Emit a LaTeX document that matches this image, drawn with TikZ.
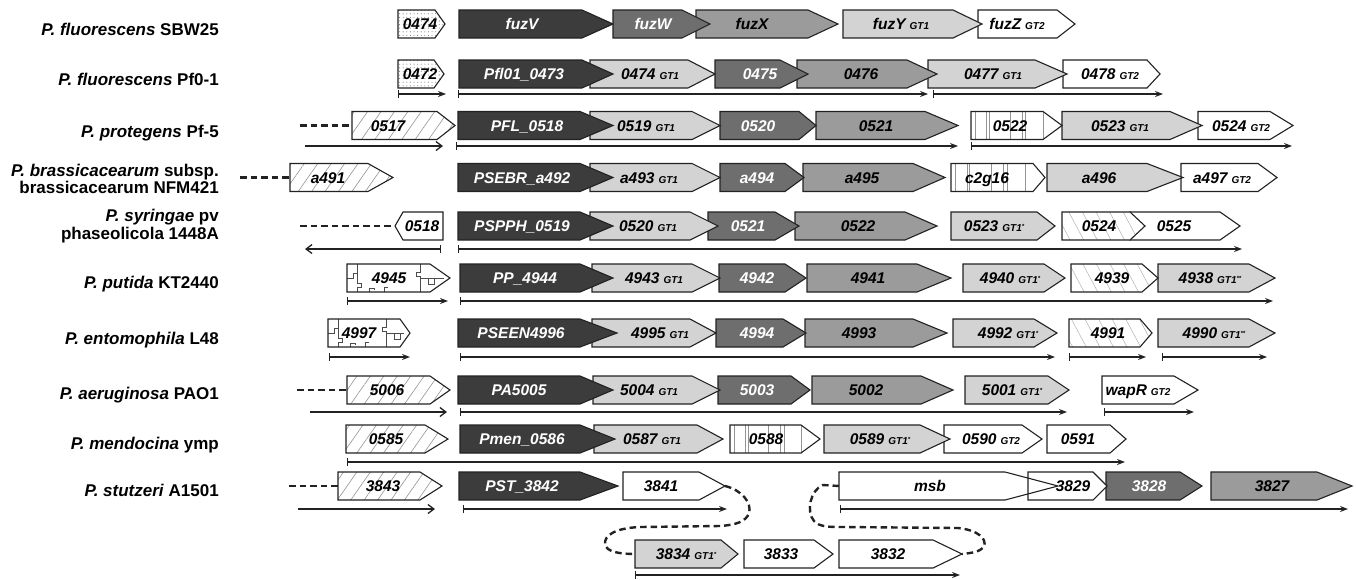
\documentclass[tikz,border=0pt]{standalone}
\usepackage{fontspec}
\setmainfont{Liberation Sans}
\usetikzlibrary{patterns.meta,arrows.meta,calc}
\definecolor{cdk}{HTML}{3C3C3C}
\definecolor{cmd}{HTML}{6E6E6E}
\definecolor{cgy}{HTML}{9B9B9B}
\definecolor{clt}{HTML}{D3D3D3}
\definecolor{olc}{HTML}{222222}
\newcommand\GTsub[1]{\hspace{4pt}{\fontsize{10}{10}\selectfont GT#1}}
\newcommand\GTs{\hspace{4pt}{\fontsize{10}{10}\selectfont GT1\raisebox{3pt}{\fontsize{6}{6}\selectfont *}}}
\newcommand\GTss{\hspace{4pt}{\fontsize{10}{10}\selectfont GT1\raisebox{3pt}{\fontsize{6}{6}\selectfont **}}}
% gene pointing right: name, x1, xtip, head, y, style, label x, label, label style
\newcommand\gn[9]{%
  \path[gene,#6] (#2,{#5-14}) -- ({#3-#4},{#5-14}) -- (#3,#5) -- ({#3-#4},{#5+14}) -- (#2,{#5+14}) -- cycle;
  \coordinate (#1-w) at (#2,#5);
  \coordinate (#1-e) at (#3,#5);
  \node[glabel,#9] (#1) at (#7,{#5+5.5}) {#8};}
% gene pointing left: name, xtip, xright, head, y, style, label x, label, label style
\newcommand\gnl[9]{%
  \path[gene,#6] (#2,#5) -- ({#2+#4},{#5-14}) -- (#3,{#5-14}) -- (#3,{#5+14}) -- ({#2+#4},{#5+14}) -- cycle;
  \coordinate (#1-w) at (#2,#5);
  \coordinate (#1-e) at (#3,#5);
  \node[glabel,#9] (#1) at (#7,{#5+5.5}) {#8};}
% genomic extent line: name, x1, x2, y, style
\newcommand\gl[5]{%
  \coordinate (#1a) at (#2,#4);
  \coordinate (#1b) at (#3,#4);
  \draw[gline,#5] (#1a) -- (#1b);}
\tikzset{
  gene/.style={draw=olc, line width=1.1pt, line join=miter},
  dk/.style={fill=cdk}, md/.style={fill=cmd}, gy/.style={fill=cgy},
  lt/.style={fill=clt}, wh/.style={fill=white},
  pdots/.style={preaction={fill=white}, pattern={Dots[distance=3.6pt,radius=0.55pt]}, pattern color=black!50},
  phatch/.style={preaction={fill=white}, pattern={Lines[angle=55,distance=11pt,line width=0.6pt]}, pattern color=black!42},
  pfhatch/.style={preaction={fill=white}, pattern={Lines[angle=-62,distance=12pt,line width=0.5pt]}, pattern color=black!30},
  pvstr/.style={fill=white, path picture={
      \foreach \f in {0.05,0.17,0.2,0.43,0.56,0.6,0.79}{
        \draw[black!42,line width=0.7pt] ($(path picture bounding box.north west)!\f!(path picture bounding box.north east)$) -- ++(0,40);}}},
  jigline/.style={draw=black!70, line width=0.6pt},
  pjig/.style={fill=white, path picture={
      \begin{scope}[shift={(path picture bounding box.west)}]
        \draw[jigline] (10,-14) -- (10,-5) -- (6,-5) -- (6,0) -- (0,0);
        \draw[jigline] (10,-5) -- (10,5) -- (14,5) -- (14,9) -- (10,9) -- (10,14);
        \draw[jigline] (22,14) -- (22,10) -- (27,10) -- (27,12);
        \draw[jigline] (37,14) -- (37,9) -- (41,9);
      \end{scope}
      \begin{scope}[shift={(path picture bounding box.east)}]
        \draw[jigline] (-#1,-14) -- (-#1,-6) -- ({-#1-4},-6) -- ({-#1-4},-2) -- (-#1,-2) -- (-#1,14);
        \draw[jigline] (-#1,0) -- (-6,0);
        \draw[jigline] ({-#1+8},0) -- ({-#1+8},6) -- ({-#1+14},6) -- ({-#1+14},0);
      \end{scope}}},
  glabel/.style={anchor=base, inner sep=0pt, font=\fontsize{15.5}{16}\selectfont\bfseries\itshape},
  wt/.style={text=white}, bk/.style={text=black},
  sp/.style={anchor=base east, inner sep=0pt, font=\fontsize{17}{17}\selectfont\bfseries},
  gline/.style={draw=olc, line width=1.3pt},
  tkar/.style={arrows={Bar[width=8pt]-Stealth[length=8pt,width=6pt]}},
  opar/.style={arrows={-Straight Barb[length=6pt,width=9pt]}},
  tkop/.style={arrows={Bar[width=8pt]-Straight Barb[length=6pt,width=9pt]}},
  dsh/.style={draw=olc, line width=2.4pt, dash pattern=on 6.5pt off 4pt}
}
\begin{document}
\begin{tikzpicture}[x=1pt,y=-1pt]
\useasboundingbox (0,0) rectangle (1356,579);

% species labels
\node[sp] (s1) at (219,35) {\textit{P. fluorescens} SBW25};
\node[sp] (s2) at (219,85) {\textit{P. fluorescens} Pf0-1};
\node[sp] (s3) at (219,137) {\textit{P. protegens} Pf-5};
\node[sp] (s4a) at (219,176) {\textit{P. brassicacearum} subsp.};
\node[sp] (s4b) at (219,193) {brassicacearum NFM421};
\node[sp] (s5a) at (219,221) {\textit{P. syringae} pv};
\node[sp] (s5b) at (219,239) {phaseolicola 1448A};
\node[sp] (s6) at (219,288) {\textit{P. putida} KT2440};
\node[sp] (s7) at (219,344) {\textit{P. entomophila} L48};
\node[sp] (s8) at (219,399) {\textit{P. aeruginosa} PAO1};
\node[sp] (s9) at (219,449) {\textit{P. mendocina} ymp};
\node[sp] (s10) at (219,496) {\textit{P. stutzeri} A1501};

% row 1
\gn{r1f}{978}{1075}{18}{24}{wh}{1017}{fuzZ\GTsub{2}}{bk}
\gn{r1e}{843}{982}{29}{24}{lt}{901}{fuzY\GTsub{1}}{bk}
\gn{r1d}{696}{838}{30}{24}{gy}{752}{fuzX}{bk}
\gn{r1c}{613}{710}{28}{24}{md}{653}{fuzW}{wt}
\gn{r1b}{459}{613}{31}{24}{dk}{522}{fuzV}{wt}
\gn{r1a}{398}{445}{10}{24}{pdots}{420}{0474}{bk}

% row 2
\gn{r2g}{1063}{1160}{13}{74}{wh}{1110}{0478\GTsub{2}}{bk}
\gn{r2f}{928}{1067}{32}{74}{lt}{993}{0477\GTsub{1}}{bk}
\gn{r2e}{797}{937}{30}{74}{gy}{861}{0476}{bk}
\gn{r2d}{715}{808}{28}{74}{md}{760}{0475}{wt}
\gn{r2c}{590}{715}{27}{74}{lt}{650}{0474\GTsub{1}}{bk}
\gn{r2b}{459}{613}{31}{74}{dk}{524}{Pfl01\_0473}{wt}
\gn{r2a}{398}{444}{10}{74}{pdots}{420}{0472}{bk}
\gl{l2a}{398}{446}{94}{tkar}
\gl{l2b}{458}{928}{94}{tkar}
\gl{l2c}{933}{1163}{94}{tkar}

% row 3
\gn{r3h}{1198}{1293}{23}{125.5}{wh}{1241}{0524\GTsub{2}}{bk}
\gn{r3g}{1062}{1202}{32}{125.5}{lt}{1120}{0523\GTsub{1}}{bk}
\gn{r3f}{971}{1062}{19}{125.5}{pvstr}{1010}{0522}{bk}
\gn{r3e}{816}{958}{33}{125.5}{gy}{876}{0521}{bk}
\gn{r3d}{720}{816}{17}{125.5}{md}{758}{0520}{wt}
\gn{r3c}{590}{720}{28}{125.5}{lt}{646}{0519\GTsub{1}}{bk}
\gn{r3b}{458}{613}{33}{125.5}{dk}{527}{PFL\_0518}{wt}
\gn{r3a}{352}{455}{18}{125.5}{phatch}{388}{0517}{bk}
\coordinate (d3) at (300,125.5);
\draw[dsh] (d3) -- (r3a-w);
\gl{l3a}{305}{443}{146}{opar}
\gl{l3b}{456}{958}{146}{tkar}
\gl{l3c}{971}{1292}{146}{tkar}

% row 4
\gn{r4h}{1181}{1277}{19}{177.5}{wh}{1222}{a497\GTsub{2}}{bk}
\gn{r4g}{1047}{1183}{36}{177.5}{lt}{1099}{a496}{bk}
\gn{r4f}{951}{1045}{12}{177.5}{pvstr}{987}{c2g16}{bk}
\gn{r4e}{803}{945}{32}{177.5}{gy}{862}{a495}{bk}
\gn{r4d}{720}{804}{19}{177.5}{md}{757}{a494}{wt}
\gn{r4c}{590}{720}{28}{177.5}{lt}{649}{a493\GTsub{1}}{bk}
\gn{r4b}{458}{613}{33}{177.5}{dk}{522}{PSEBR\_a492}{wt}
\gn{r4a}{290}{393}{25}{177.5}{phatch}{328}{a491}{bk}
\coordinate (d4) at (240,177.5);
\draw[dsh] (d4) -- (r4a-w);

% row 5
\gn{r5h}{1130}{1240}{20}{226}{wh}{1174}{0525}{bk}
\gn{r5g}{1062}{1145}{15}{226}{pfhatch}{1099}{0524}{bk}
\gn{r5f}{951}{1055}{18}{226}{lt}{994}{0523\GTs}{bk}
\gn{r5e}{795}{937}{32}{226}{gy}{858}{0522}{bk}
\gn{r5d}{708}{799}{24}{226}{md}{748}{0521}{wt}
\gn{r5c}{590}{718}{28}{226}{lt}{648}{0520\GTsub{1}}{bk}
\gn{r5b}{458}{613}{33}{226}{dk}{522}{PSPPH\_0519}{wt}
\gnl{r5a}{395}{443}{8}{226}{wh}{422}{0518}{bk}
\coordinate (d5) at (300,226);
\draw[dsh] (d5) -- (r5a-w);
\gl{l5a}{441}{305}{249}{tkop}
\gl{l5b}{458}{1242}{249}{tkar}

% row 6
\gn{r6h}{1158}{1275}{26}{278}{lt}{1210}{4938\GTss}{bk}
\gn{r6g}{1071}{1158}{16}{278}{pfhatch}{1112}{4939}{bk}
\gn{r6f}{963}{1065}{21}{278}{lt}{1010}{4940\GTs}{bk}
\gn{r6e}{807}{951}{34}{278}{gy}{868}{4941}{bk}
\gn{r6d}{719}{806}{21}{278}{md}{757}{4942}{wt}
\gn{r6c}{592}{720}{28}{278}{lt}{654}{4943\GTsub{1}}{bk}
\gn{r6b}{460}{613}{33}{278}{dk}{525}{PP\_4944}{wt}
\gn{r6a}{347}{450}{20}{278}{pjig=30}{389}{4945}{bk}
\gl{l6a}{347}{448}{301}{tkar}
\gl{l6b}{460}{1273}{301}{tkar}

% row 7
\gn{r7h}{1158}{1275}{26}{333}{lt}{1214}{4990\GTss}{bk}
\gn{r7g}{1069}{1152}{12}{333}{pfhatch}{1108}{4991}{bk}
\gn{r7f}{953}{1057}{23}{333}{lt}{1008}{4992\GTs}{bk}
\gn{r7e}{805}{947}{34}{333}{gy}{859}{4993}{bk}
\gn{r7d}{716}{806}{23}{333}{md}{757}{4994}{wt}
\gn{r7c}{592}{716}{26}{333}{lt}{660}{4995\GTsub{1}}{bk}
\gn{r7b}{458}{617}{37}{333}{dk}{521}{PSEEN4996}{wt}
\gn{r7a}{328}{410}{10}{333}{pjig=24}{359}{4997}{bk}
\gl{l7a}{329}{410}{357}{tkar}
\gl{l7b}{460}{1055}{357}{tkar}
\gl{l7c}{1069}{1146}{357}{tkar}
\gl{l7d}{1162}{1267}{357}{tkar}

% row 8
\gn{r8g}{1102}{1198}{24}{390}{wh}{1138}{wapR\GTsub{2}}{bk}
\gn{r8f}{965}{1069}{21}{390}{lt}{1012}{5001\GTs}{bk}
\gn{r8e}{812}{953}{32}{390}{gy}{866}{5002}{bk}
\gn{r8d}{718}{810}{19}{390}{md}{757}{5003}{wt}
\gn{r8c}{593}{720}{28}{390}{lt}{649}{5004\GTsub{1}}{bk}
\gn{r8b}{458}{613}{33}{390}{dk}{519}{PA5005}{wt}
\gn{r8a}{347}{450}{20}{390}{phatch}{387}{5006}{bk}
\coordinate (d8) at (297,390);
\draw[dsh] (d8) -- (r8a-w);
\gl{l8a}{310}{447}{412}{opar}
\gl{l8b}{460}{1067}{412}{tkar}
\gl{l8c}{1104}{1194}{412}{tkar}

% row 9
\gn{r9g}{1047}{1126}{16}{439}{wh}{1078}{0591}{bk}
\gn{r9f}{944}{1042}{20}{439}{wh}{991}{0590\GTsub{2}}{bk}
\gn{r9e}{824}{950}{30}{439}{lt}{880}{0589\GTs}{bk}
\gn{r9d}{730}{820}{19}{439}{pvstr}{766}{0588}{bk}
\gn{r9c}{594}{723}{26}{439}{lt}{652}{0587\GTsub{1}}{bk}
\gn{r9b}{460}{615}{35}{439}{dk}{522}{Pmen\_0586}{wt}
\gn{r9a}{346}{448}{23}{439}{phatch}{386}{0585}{bk}
\gl{l9a}{347}{1125}{462}{tkar}

% row 10
\gn{r10h}{1211}{1352}{35}{486}{gy}{1272}{3827}{bk}
\gn{r10g}{1106}{1202}{22}{486}{md}{1149}{3828}{wt}
\gn{r10f}{1028}{1107}{14}{486}{wh}{1073}{3829}{bk}
\gn{r10e}{839}{1058}{53}{486}{fill=none}{930}{msb}{bk}
\gn{r10c}{623}{725}{26}{486}{wh}{661}{3841}{bk}
\gn{r10b}{459}{618}{38}{486}{dk}{522}{PST\_3842}{wt}
\gn{r10a}{338}{442}{22}{486}{phatch}{383}{3843}{bk}
\coordinate (d10) at (289,486);
\draw[dsh] (d10) -- (r10a-w);
\gl{l10a}{298}{435}{509}{opar}
\gl{l10b}{463}{727}{509}{tkar}
\gl{l10c}{840}{1348}{509}{tkar}

% row 11
\gn{r11c}{839}{962}{29}{554}{wh}{888}{3832}{bk}
\gn{r11b}{744}{833}{19}{554}{wh}{781}{3833}{bk}
\gn{r11a}{635}{738}{17}{554}{lt}{686}{3834\GTs}{bk}
\gl{l11}{635}{960}{575}{tkar}

% dashed connectors between the split loci
\draw[dsh] (r10c-e) .. controls (742,490) and (752,503) .. (749,513)
  .. controls (746,522) and (735,525) .. (720,526) -- (640,527)
  .. controls (616,528) and (604,535) .. (605,544)
  .. controls (606,552) and (620,554) .. (r11a-w);
\draw[dsh] (r10e-w) -- (823,485) .. controls (810,490) and (806,512) .. (814,521)
  .. controls (819,527) and (830,527) .. (842,527) -- (958,528)
  .. controls (978,530) and (987,539) .. (984,546)
  .. controls (981,552) and (971,553) .. (r11c-e);
\end{tikzpicture}
\end{document}
